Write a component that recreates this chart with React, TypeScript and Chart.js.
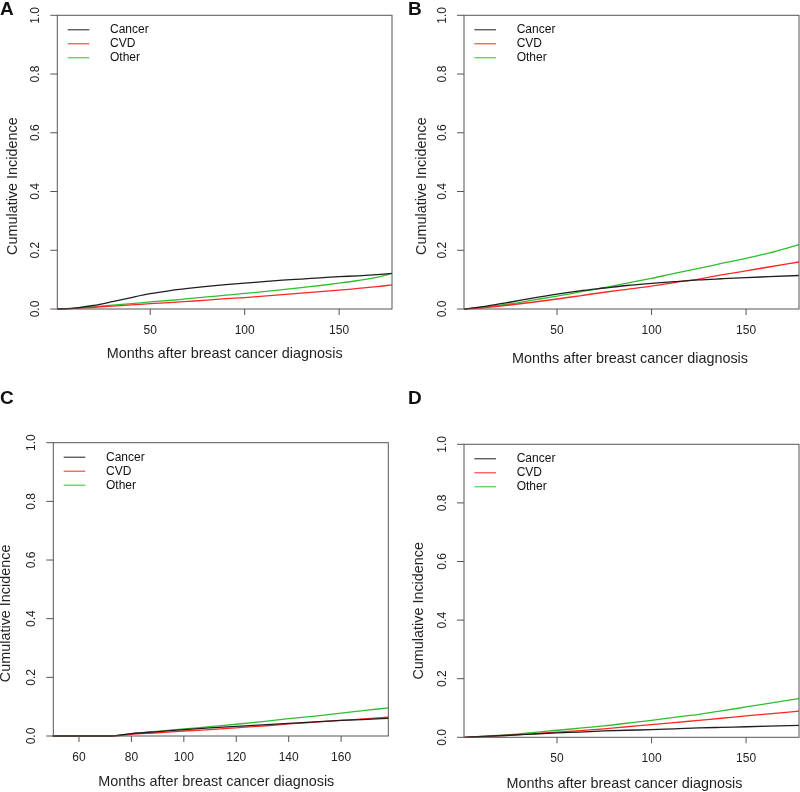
import React, { useEffect, useRef } from "react";
import { Chart, registerables } from "chart.js";

Chart.register(...registerables);

// ---------- data ----------
const seriesNames = ["Cancer", "CVD", "Other"];
const seriesColors = ["#1e1e1e", "#ff2626", "#2fbe2f"];
const yTicks = [0, 0.2, 0.4, 0.6, 0.8, 1.0];
const xTicksABD = [50, 100, 150];
const xTicksC = [60, 80, 100, 120, 140, 160];
const xTitle = "Months after breast cancer diagnosis";
const yTitle = "Cumulative Incidence";

const monthsA = [1, 10, 20, 30, 40, 50, 60, 70, 80, 90, 100, 110, 120, 130, 140, 150, 160, 170, 178];
const cancerA = [0, 0.003, 0.012, 0.025, 0.039, 0.052, 0.062, 0.07, 0.077, 0.083, 0.088, 0.093, 0.098, 0.102, 0.106, 0.11, 0.113, 0.117, 0.121];
const cvdA = [0, 0.002, 0.006, 0.01, 0.014, 0.018, 0.022, 0.026, 0.03, 0.035, 0.039, 0.044, 0.049, 0.054, 0.059, 0.064, 0.07, 0.076, 0.082];
const otherA = [0, 0.003, 0.008, 0.013, 0.018, 0.024, 0.029, 0.035, 0.041, 0.047, 0.053, 0.059, 0.066, 0.073, 0.08, 0.088, 0.097, 0.108, 0.121];

const monthsB = [1, 12, 25, 37, 50, 62, 75, 87, 100, 112, 125, 137, 150, 162, 178];
const cancerB = [0, 0.009, 0.023, 0.037, 0.051, 0.062, 0.0715, 0.08, 0.087, 0.093, 0.099, 0.103, 0.107, 0.11, 0.114];
const cvdB = [0, 0.005, 0.0136, 0.023, 0.034, 0.045, 0.057, 0.067, 0.078, 0.09, 0.102, 0.116, 0.13, 0.143, 0.16];
const otherB = [0, 0.007, 0.017, 0.03, 0.044, 0.058, 0.073, 0.088, 0.104, 0.121, 0.138, 0.155, 0.1725, 0.19, 0.219];

const monthsC = [50, 60, 72, 80, 90, 100, 110, 120, 130, 140, 150, 160, 170, 178];
const cancerC = [0, 0, 0, 0.008, 0.015, 0.022, 0.028, 0.033, 0.038, 0.043, 0.048, 0.053, 0.057, 0.06];
const cvdC = [0, 0, 0, 0.006, 0.011, 0.017, 0.022, 0.028, 0.034, 0.041, 0.047, 0.053, 0.059, 0.064];
const otherC = [0, 0, 0, 0.008, 0.016, 0.024, 0.032, 0.04, 0.049, 0.059, 0.068, 0.078, 0.088, 0.096];

const monthsD = [1, 12, 25, 37, 50, 62, 75, 87, 100, 112, 125, 137, 150, 162, 178];
const cancerD = [0, 0.003, 0.007, 0.011, 0.015, 0.018, 0.0216, 0.024, 0.026, 0.029, 0.032, 0.034, 0.036, 0.038, 0.041];
const cvdD = [0, 0.003, 0.007, 0.012, 0.018, 0.023, 0.029, 0.036, 0.043, 0.05, 0.058, 0.065, 0.073, 0.08, 0.089];
const otherD = [0, 0.004, 0.009, 0.016, 0.024, 0.031, 0.039, 0.048, 0.058, 0.068, 0.0785, 0.09, 0.1035, 0.116, 0.132];

// ---------- layout ----------
const W = 800;
const H = 792;
const FONT = "'Liberation Sans', Arial, Helvetica, sans-serif";

type Panel = {
  letter: string;
  letterX: number;
  letterY: number;
  months: number[];
  series: number[][];
  xMin: number;
  xMax: number;
  xTicks: number[];
  area: { l: number; t: number; r: number; b: number };
  yTitleDx: number;
  yTitleDy: number;
  xTitleDy: number;
  xTitleDx: number;
};

const panels: Panel[] = [
  {
    letter: "A", letterX: 0, letterY: 15, months: monthsA, series: [cancerA, cvdA, otherA],
    xMin: 0.8, xMax: 178, xTicks: xTicksABD,
    area: { l: 57.3, t: 15.3, r: 392, b: 309 },
    yTitleDx: 44.6, yTitleDy: 24, xTitleDy: 45, xTitleDx: 0,
  },
  {
    letter: "B", letterX: 408, letterY: 15, months: monthsB, series: [cancerB, cvdB, otherB],
    xMin: 0.8, xMax: 178, xTicks: xTicksABD,
    area: { l: 464, t: 15.3, r: 799, b: 309 },
    yTitleDx: 42.3, yTitleDy: 24, xTitleDy: 50.3, xTitleDx: -1.5,
  },
  {
    letter: "C", letterX: 0, letterY: 404, months: monthsC, series: [cancerC, cvdC, otherC],
    xMin: 50.2, xMax: 178, xTicks: xTicksC,
    area: { l: 53.3, t: 442.7, r: 388.3, b: 736 },
    yTitleDx: 47.3, yTitleDy: 24, xTitleDy: 46, xTitleDx: -4.5,
  },
  {
    letter: "D", letterX: 408, letterY: 404, months: monthsD, series: [cancerD, cvdD, otherD],
    xMin: 0.8, xMax: 178, xTicks: xTicksABD,
    area: { l: 464, t: 444.3, r: 799, b: 737.3 },
    yTitleDx: 44.7, yTitleDy: 20, xTitleDy: 47, xTitleDx: -7,
  },
];

function makeDecor(p: Panel) {
  return {
    id: "decor" + p.letter,
    afterDatasetsDraw(chart: any) {
      const { ctx, chartArea: a } = chart;
      const x = chart.scales.x;
      const y = chart.scales.y;
      ctx.save();
      // box
      ctx.strokeStyle = "#555";
      ctx.lineWidth = 1;
      ctx.strokeRect(a.left, a.top, a.right - a.left, a.bottom - a.top);
      // tick marks
      ctx.beginPath();
      for (const v of p.xTicks) {
        const px = x.getPixelForValue(v);
        ctx.moveTo(px, a.bottom);
        ctx.lineTo(px, a.bottom + 6);
      }
      for (const v of yTicks) {
        const py = y.getPixelForValue(v);
        ctx.moveTo(a.left, py);
        ctx.lineTo(a.left - 7, py);
      }
      ctx.stroke();
      // tick labels
      ctx.fillStyle = "#222";
      ctx.font = `12px ${FONT}`;
      ctx.textAlign = "center";
      ctx.textBaseline = "middle";
      for (const v of p.xTicks) {
        ctx.fillText(String(v), x.getPixelForValue(v), a.bottom + 21.7);
      }
      for (const v of yTicks) {
        ctx.save();
        ctx.translate(a.left - 21.3, y.getPixelForValue(v));
        ctx.rotate(-Math.PI / 2);
        ctx.fillText(v.toFixed(1), 0, 0);
        ctx.restore();
      }
      // axis titles
      ctx.fillStyle = "#231f20";
      ctx.font = `14.4px ${FONT}`;
      ctx.fillText(xTitle, (a.left + a.right) / 2 + p.xTitleDx, a.bottom + p.xTitleDy);
      ctx.save();
      ctx.translate(a.left - p.yTitleDx, (a.top + a.bottom) / 2 + p.yTitleDy);
      ctx.rotate(-Math.PI / 2);
      ctx.fillText(yTitle, 0, 0);
      ctx.restore();
      // legend
      ctx.font = `12px ${FONT}`;
      ctx.textAlign = "left";
      for (let i = 0; i < seriesNames.length; i++) {
        const ry = a.top + 14.5 + i * 14;
        ctx.strokeStyle = seriesColors[i];
        ctx.lineWidth = 1;
        ctx.beginPath();
        ctx.moveTo(a.left + 10.4, ry);
        ctx.lineTo(a.left + 32, ry);
        ctx.stroke();
        ctx.fillStyle = "#111";
        ctx.fillText(seriesNames[i], a.left + 52.7, ry);
      }
      // panel letter
      ctx.fillStyle = "#111";
      ctx.font = `bold 19px ${FONT}`;
      ctx.textBaseline = "alphabetic";
      ctx.fillText(p.letter, p.letterX, p.letterY);
      ctx.restore();
    },
  };
}

function PanelChart({ p }: { p: Panel }) {
  const ref = useRef<HTMLCanvasElement | null>(null);
  useEffect(() => {
    if (!ref.current) return;
    const chart = new Chart(ref.current, {
      type: "line",
      data: {
        datasets: p.series.map((vals, i) => ({
          label: seriesNames[i],
          data: p.months.map((m, j) => ({ x: m, y: vals[j] })),
          borderColor: seriesColors[i],
          borderWidth: 1.3,
          pointRadius: 0,
          cubicInterpolationMode: "monotone" as const,
          clip: false as any,
          fill: false,
        })),
      },
      options: {
        animation: false,
        responsive: false,
        events: [],
        layout: {
          padding: { left: p.area.l, top: p.area.t, right: W - p.area.r, bottom: H - p.area.b },
        },
        plugins: { legend: { display: false }, tooltip: { enabled: false }, title: { display: false } },
        scales: {
          x: { type: "linear", min: p.xMin, max: p.xMax, display: false },
          y: { type: "linear", min: 0, max: 1, display: false },
        },
      },
      plugins: [makeDecor(p)],
    });
    return () => chart.destroy();
  }, [p]);
  return (
    <canvas
      ref={ref}
      width={W}
      height={H}
      style={{ position: "absolute", left: 0, top: 0, width: W, height: H }}
    />
  );
}

export default function App() {
  return (
    <div style={{ position: "absolute", left: 0, top: 0, width: W, height: H, background: "#fff" }}>
      {panels.map((p) => (
        <PanelChart key={p.letter} p={p} />
      ))}
    </div>
  );
}
